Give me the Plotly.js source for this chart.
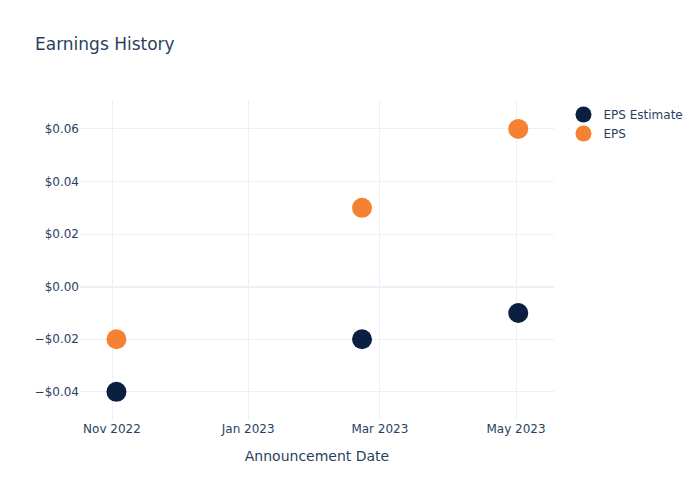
<!DOCTYPE html>
<html><head><meta charset="utf-8">
<script src="https://cdn.plot.ly/plotly-3.0.1.min.js"></script>
<style>html,body{margin:0;padding:0;}</style>
</head><body>
<div id="chart" style="width:700px;height:500px;"></div>
<script>
const dates = ["2022-11-03", "2023-02-21", "2023-05-02"];
const epsEstimate = [-0.04, -0.02, -0.01];
const epsActual = [-0.02, 0.03, 0.06];

const traces = [
  {x: dates, y: epsEstimate, name: "EPS Estimate", mode: "markers", type: "scatter",
   marker: {size: 20, color: "#0B1F40"}},
  {x: dates, y: epsActual, name: "EPS", mode: "markers", type: "scatter",
   marker: {size: 20, color: "#F58233"}}
];
const layout = {
  width: 700, height: 500,
  template: "plotly_white",
  font: {family: "DejaVu Sans, sans-serif", color: "#2a3f5f"},
  title: {text: "Earnings History", font: {size: 17}, x: 0.05, xanchor: "left"},
  paper_bgcolor: "white", plot_bgcolor: "white",
  xaxis: {title: {text: "Announcement Date", standoff: 16}, type: "date", gridcolor: "#EBF0F8",
          tickformat: "%b %Y", dtick: "M2", tick0: "2022-11-01", zeroline: false,
          range: ["2022-10-17 16:00", "2023-05-18"]},
  yaxis: {tickformat: "$.2f", gridcolor: "#EBF0F8", zerolinecolor: "#EBF0F8",
          zerolinewidth: 2, dtick: 0.02, range: [-0.0507, 0.0710]},
  showlegend: true
};
Plotly.newPlot("chart", traces, layout, {displayModeBar: false});
</script>
</body></html>
